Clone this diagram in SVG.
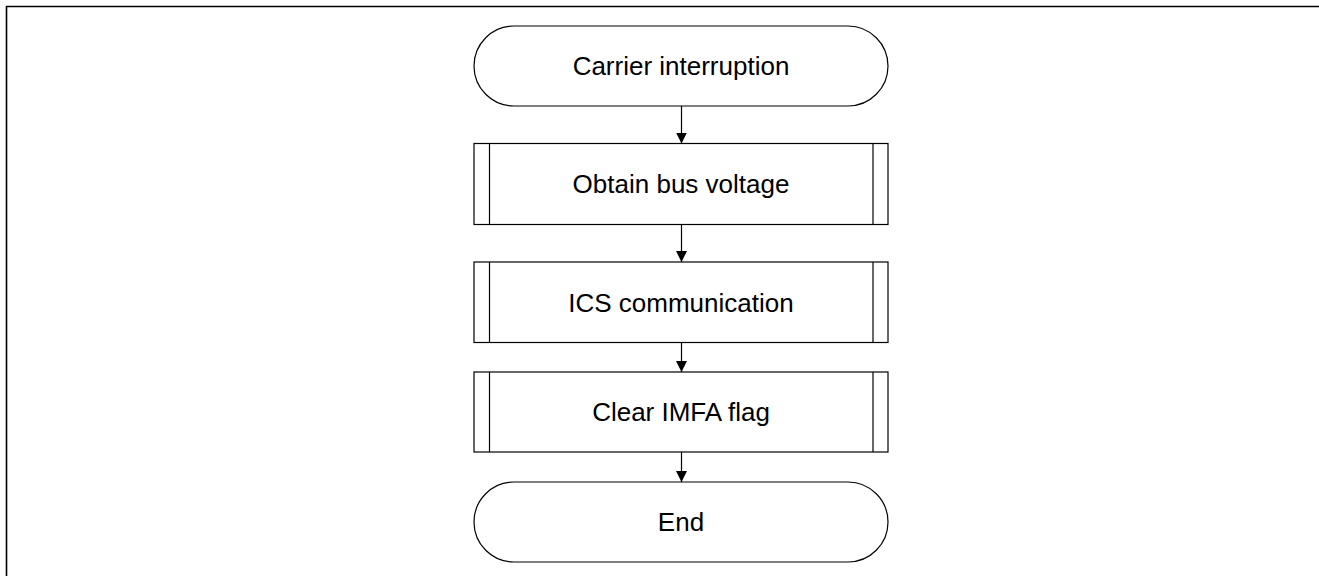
<svg xmlns="http://www.w3.org/2000/svg" width="1319" height="576" viewBox="0 0 1319 576">
<style>
.s{fill:#fff;stroke:#000;stroke-width:1.2}
.l{fill:none;stroke:#000;stroke-width:1.2}
.t{font-family:"Liberation Sans",Arial,sans-serif;font-size:26px;fill:#000;text-anchor:middle}
.c{fill:none;stroke:#000;stroke-width:1.2}
</style>
<defs>
<marker id="ah" markerUnits="userSpaceOnUse" markerWidth="12" markerHeight="11" refX="11" refY="5.5" orient="auto">
<path d="M0,0 L11,5.5 L0,11 Z" fill="#000"/>
</marker>
</defs>
<rect width="1319" height="576" fill="#fff"/>
<path d="M6.5,576 V6.5 H1319" fill="none" stroke="#000" stroke-width="1.6"/>
<g id="start">
<rect class="s" x="474" y="26" width="414" height="80" rx="40" ry="40"/>
<text class="t" x="681" y="75">Carrier interruption</text>
</g>
<g id="obtain">
<rect class="s" x="474" y="143.5" width="414" height="81"/>
<line class="l" x1="489.5" y1="143.5" x2="489.5" y2="224.5"/>
<line class="l" x1="873" y1="143.5" x2="873" y2="224.5"/>
<text class="t" x="681" y="193">Obtain bus voltage</text>
</g>
<g id="ics">
<rect class="s" x="474" y="262" width="414" height="80.5"/>
<line class="l" x1="489.5" y1="262" x2="489.5" y2="342.5"/>
<line class="l" x1="873" y1="262" x2="873" y2="342.5"/>
<text class="t" x="681" y="311.5">ICS communication</text>
</g>
<g id="clear">
<rect class="s" x="474" y="372" width="414" height="80"/>
<line class="l" x1="489.5" y1="372" x2="489.5" y2="452"/>
<line class="l" x1="873" y1="372" x2="873" y2="452"/>
<text class="t" x="681" y="421">Clear IMFA flag</text>
</g>
<g id="end">
<rect class="s" x="474" y="482" width="414" height="80" rx="40" ry="40"/>
<text class="t" x="681" y="531">End</text>
</g>
<g id="connectors">
<line class="c" x1="681.5" y1="106" x2="681.5" y2="143.5" marker-end="url(#ah)"/>
<line class="c" x1="681.5" y1="224.5" x2="681.5" y2="262" marker-end="url(#ah)"/>
<line class="c" x1="681.5" y1="342.5" x2="681.5" y2="372" marker-end="url(#ah)"/>
<line class="c" x1="681.5" y1="452" x2="681.5" y2="482" marker-end="url(#ah)"/>
</g>
</svg>
